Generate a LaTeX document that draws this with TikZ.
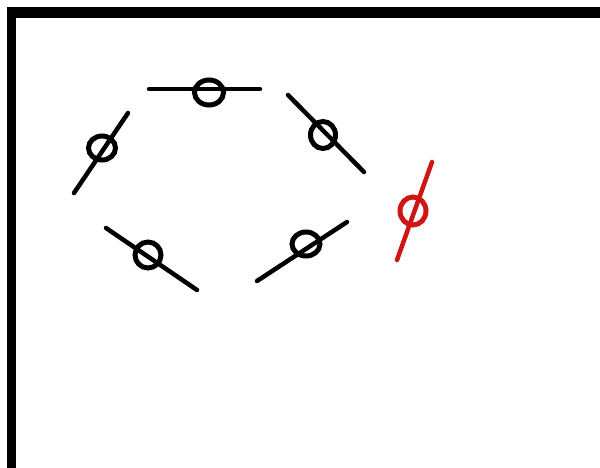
\documentclass[tikz,border=0pt]{standalone}
\usetikzlibrary{shapes.geometric}
\definecolor{penred}{RGB}{205,22,22}
\begin{document}
\begin{tikzpicture}[x=1pt,y=-1pt,
  stroke/.style={line width=4.5pt, line cap=round},
  ring/.style={draw, ellipse, line width=5pt, inner sep=0pt},
  frame/.style={fill=black}]
\useasboundingbox (0,0) rectangle (600,468);
% frame
\fill[frame] (7,7) rectangle (600,18);
\fill[frame] (7,7) rectangle (16,468);
% symbol 1
\coordinate (a1) at (74,193); \coordinate (b1) at (128,113);
\node[ring, minimum width=27pt, minimum height=24pt] (r1) at (102,148) {};
\draw[stroke] (a1) -- (b1);
% symbol 2
\coordinate (a2) at (149,89); \coordinate (b2) at (260,89);
\node[ring, minimum width=29pt, minimum height=25pt] (r2) at (209,92.5) {};
\draw[stroke] (a2) -- (b2);
% symbol 3
\coordinate (a3) at (288,95); \coordinate (b3) at (364,172);
\node[ring, minimum width=25pt, minimum height=27pt] (r3) at (323,135) {};
\draw[stroke] (a3) -- (b3);
% symbol 4
\coordinate (a4) at (106,228); \coordinate (b4) at (197,290);
\node[ring, minimum width=26pt, minimum height=26pt] (r4) at (148,255) {};
\draw[stroke] (a4) -- (b4);
% symbol 5
\coordinate (a5) at (257,281); \coordinate (b5) at (347,222);
\node[ring, minimum width=28pt, minimum height=24pt] (r5) at (306,244) {};
\draw[stroke] (a5) -- (b5);
% red symbol
\coordinate (a6) at (397,260); \coordinate (b6) at (432,162);
\node[ring, draw=penred, minimum width=26pt, minimum height=28pt] (r6) at (413,211) {};
\draw[stroke, penred] (a6) -- (b6);
\end{tikzpicture}
\end{document}
